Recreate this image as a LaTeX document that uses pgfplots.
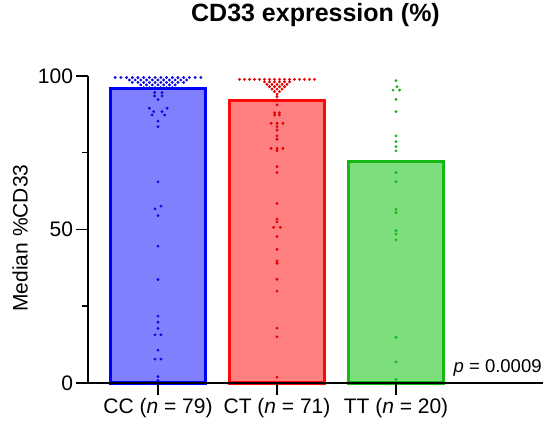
\documentclass[border=0pt]{standalone}
\usepackage{fontspec}
\setmainfont{Liberation Sans}
\usepackage{pgfplots}
\pgfplotsset{compat=1.18}
\definecolor{cbE}{RGB}{0,0,255}
\definecolor{cbF}{RGB}{128,128,255}
\definecolor{cbD}{RGB}{10,10,220}
\definecolor{crE}{RGB}{250,10,10}
\definecolor{crF}{RGB}{255,128,128}
\definecolor{crD}{RGB}{230,0,0}
\definecolor{cgE}{RGB}{20,185,20}
\definecolor{cgF}{RGB}{125,222,125}
\definecolor{cgD}{RGB}{25,180,25}
\begin{document}
\begin{tikzpicture}
\path[use as bounding box] (0,0) rectangle (550bp,428bp);
\begin{axis}[
  at={(88bp,45bp)}, anchor=south west,
  scale only axis, width=455bp, height=307bp,
  xmin=-0.588, xmax=3.235, ymin=0, ymax=100,
  axis x line*=bottom, axis y line*=left,
  axis line style={-, line width=1.5bp, black},
  xtick={0,1,2},
  xticklabels={CC (\textit{n} = 79), CT (\textit{n} = 71), TT (\textit{n} = 20)},
  ytick={0,50,100}, minor ytick={25,75},
  tick align=outside, major tick length=11.5bp, minor tick length=6bp,
  tick style={line width=1.5bp, black},
  ticklabel style={font=\fontsize{21bp}{25bp}\selectfont},
  /pgf/number format/assume math mode=true,
  ylabel={Median \%CD33},
  ylabel style={font=\fontsize{21bp}{25bp}\selectfont, at={(axis description cs:-0.149,0.472)}, anchor=center},
  title={CD33 expression (\%)},
  title style={font=\bfseries\fontsize{25bp}{30bp}\selectfont, at={(axis description cs:0.5,1.1596)}, anchor=base},
  clip=false, axis on top,
]
% bars (medians)
\addplot[ybar, bar width=95bp, bar shift=0pt, draw=cbE, fill=cbF, line width=3bp] coordinates {(0,96)};
\addplot[ybar, bar width=95bp, bar shift=0pt, draw=crE, fill=crF, line width=3bp] coordinates {(1,92)};
\addplot[ybar, bar width=95bp, bar shift=0pt, draw=cgE, fill=cgF, line width=3bp] coordinates {(2,72)};
% CC individual values
\addplot[only marks, mark=*, mark size=1.25bp, color=cbD] coordinates {
(-0.36,99.5)(-0.312,99.5)(-0.264,99.5)(-0.216,99.5)(-0.168,99.5)(-0.12,99.5)(-0.072,99.5)(-0.024,99.5)
(0.024,99.5)(0.072,99.5)(0.12,99.5)(0.168,99.5)(0.216,99.5)(0.264,99.5)(0.312,99.5)(0.36,99.5)
(-0.24,98.7)(-0.192,98.7)(-0.144,98.7)(-0.096,98.7)(-0.048,98.7)(0,98.7)(0.048,98.7)(0.096,98.7)(0.144,98.7)(0.192,98.7)(0.24,98.7)
(-0.216,97.9)(-0.168,97.9)(-0.12,97.9)(-0.072,97.9)(-0.024,97.9)(0.024,97.9)(0.072,97.9)(0.12,97.9)(0.168,97.9)(0.216,97.9)
(-0.144,97.1)(-0.096,97.1)(-0.048,97.1)(0,97.1)(0.048,97.1)(0.096,97.1)(0.144,97.1)
(-0.12,96.2)(-0.072,96.2)(-0.024,96.2)(0.024,96.2)(0.072,96.2)(0.12,96.2)
(-0.028,94.6)(0.034,94.6)(-0.028,93.5)(0.034,93.5)(0,92.3)
(-0.073,89.5)(0.076,89.5)(-0.036,88.4)(0.034,88.4)(-0.05,87.3)(0.056,87.3)
(0,85.3)(0,83.5)
(0,65.5)(0.025,57.6)(-0.025,56.7)(0,54.5)(0,44.6)(0,33.7)
(0,21.8)(0,19.8)(0,17.8)(-0.025,15.7)(0.025,15.7)(0,10.7)(-0.025,7.8)(0.025,7.8)(0,2.1)(0,0.8)
};
% CT individual values
\addplot[only marks, mark=*, mark size=1.25bp, color=crD] coordinates {
(0.685,98.9)(0.727,98.9)(0.769,98.9)(0.811,98.9)(0.853,98.9)(0.895,98.9)(0.937,98.9)(0.979,98.9)
(1.021,98.9)(1.063,98.9)(1.105,98.9)(1.147,98.9)(1.189,98.9)(1.231,98.9)(1.273,98.9)(1.315,98.9)
(0.895,98.1)(0.937,98.1)(0.979,98.1)(1.021,98.1)(1.063,98.1)(1.105,98.1)
(0.916,97.3)(0.958,97.3)(1,97.3)(1.042,97.3)(1.084,97.3)
(0.937,96.5)(0.979,96.5)(1.021,96.5)(1.063,96.5)
(0.958,95.7)(1,95.7)(1.042,95.7)
(0.979,94.9)(1.021,94.9)
(1,94.1)(1,93.3)
(1,92.2)(1,90.6)(0.98,88.0)(1.02,88.0)(0.98,87.3)(1.02,87.3)
(0.95,84.6)(1,84.6)(1.05,84.6)(1,83.5)(1,82.4)(1,80.5)(1,79.4)
(0.95,76.4)(1,76.4)(1.05,76.4)(1,75.7)(1,70.5)(1,68.5)
(1,58.5)(1,53.4)(1,52.5)(0.972,50.7)(1.028,50.7)(1,47.7)(1,43.5)
(1,39.8)(1,39.0)(1,33.8)(1,29.9)(1,17.9)(1,15.0)(1,1.9)
};
% TT individual values
\addplot[only marks, mark=*, mark size=1.25bp, color=cgD] coordinates {
(2,98.5)(2.008,96.5)(1.975,95.4)(2.03,95.4)(2,92.4)(2,88.4)
(2,80.5)(2,78.6)(2,77.0)(2,75.6)(2,68.5)(2,65.6)
(2,56.6)(2,55.5)(2,49.6)(2,48.5)(2,46.6)(2,14.9)(2,6.9)(2,1.2)
};
\node[anchor=base east, inner sep=0pt, font=\fontsize{18.5bp}{22bp}\selectfont] at (axis cs:3.225,3.3) {\textit{p} = 0.0009};
\end{axis}
\end{tikzpicture}
\end{document}
